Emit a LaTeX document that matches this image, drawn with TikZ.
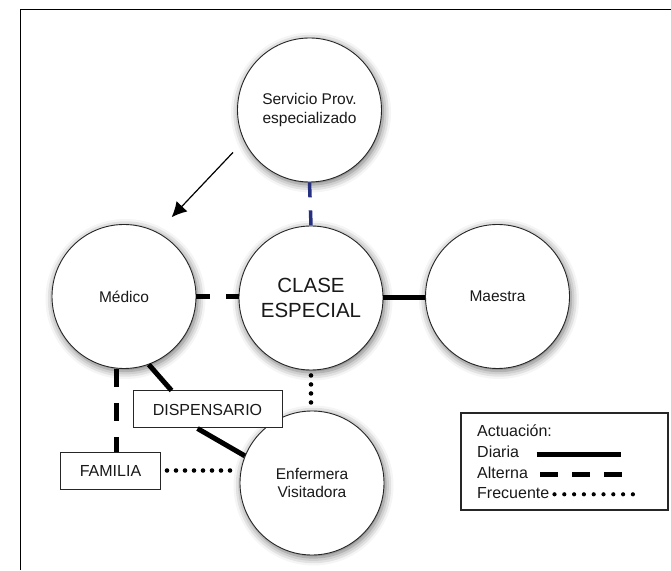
\documentclass[tikz,border=0pt]{standalone}
\usepackage{fontspec}
\setmainfont{Liberation Sans}
\usetikzlibrary{arrows.meta,shadows.blur}
\definecolor{navydash}{RGB}{38,48,128}
\tikzset{
  actor/.style={circle,draw=black!85,line width=0.9pt,fill=white,minimum size=144pt,inner sep=0pt,
    align=center,text=black!90,font=\fontsize{15.5}{18.5}\selectfont,
    blur shadow={shadow xshift=1.5pt,shadow yshift=-2.5pt,shadow blur radius=8pt,shadow opacity=60}},
  place/.style={draw=black!85,line width=1pt,fill=white,minimum height=37pt,inner sep=0pt,
    text=black!90,font=\fontsize{16}{19}\selectfont},
  legtext/.style={anchor=base west,inner sep=0pt,text=black!90,font=\fontsize{16}{19}\selectfont},
  diaria/.style={line width=5pt},
  alterna/.style={line width=5pt,dash pattern=on 17pt off 15pt},
  frecuente/.style={line width=4.6pt,line cap=round,dash pattern=on 0pt off 9pt},
}
\begin{document}
\begin{tikzpicture}[x=1pt,y=1pt]
\useasboundingbox (0,0) rectangle (671,570);
\draw[line width=1.6pt] (20.5,0) -- (20.5,560.5) -- (671,560.5);
% circles
\node[actor] (serv) at (309.5,460) {Servicio Prov.\\especializado};
\node[actor] (med) at (124,273.5) {Médico};
\node[actor,font=\fontsize{20.5}{25}\selectfont] (clase) at (311,272) {CLASE\\ESPECIAL};
\node[actor] (maes) at (497.5,273.5) {Maestra};
\node[actor] (enf) at (312,87) {Enfermera\\Visitadora};
% boxes
\node[place,minimum width=149pt] (disp) at (207.5,160.5) {DISPENSARIO};
\node[place,minimum width=100pt] (fam) at (110.5,99.5) {FAMILIA};
\coordinate (famtop) at ([xshift=5.5pt]fam.north);
% connectors
\draw[-{Latex[length=15pt,width=15pt]},line width=1.2pt] ([shift={(209:15pt)}]serv.209) -- ([shift={(59:20pt)}]med.59);
\draw[alterna,line width=3.5pt,navydash,dash pattern=on 15pt off 13pt] (serv.south) -- (clase.north);
\draw[alterna,dash pattern=on 14pt off 16pt] (med.east) -- (med.east -| clase.west);
\draw[diaria] (clase.east) -- (clase.east -| maes.west);
\draw[alterna,dash pattern=on 18pt off 16pt] (famtop |- med.south) -- (famtop);
\draw[diaria] (med.290) -- ([xshift=-36pt]disp.north);
\draw[diaria] ([xshift=-10pt]disp.south) -- (enf.158);
\draw[frecuente,shorten <=5pt,shorten >=4pt] (clase.south) -- (clase.south |- enf.north);
\draw[frecuente,shorten <=6pt,shorten >=5pt] (fam.east) -- (fam.east -| enf.west);
% legend
\node[draw=black!85,line width=1.2pt,minimum width=207pt,minimum height=97pt] (leg) at (564.5,108.5) {};
\node[legtext] (act) at (477,133) {Actuación:};
\node[legtext] (dia) at (477,112.3) {Diaria};
\node[legtext] (alt) at (477,92) {Alterna};
\node[legtext] (fre) at (477,72) {Frecuente};
\draw[diaria] (536.5,115.7) -- (621,115.7);
\draw[alterna,dash pattern=on 18pt off 14pt] (540,95.7) -- (623,95.7);
\foreach \x in {0,...,8}
\fill (554.5+\x*9.8,75.7) circle[radius=2.1];
\end{tikzpicture}
\end{document}
